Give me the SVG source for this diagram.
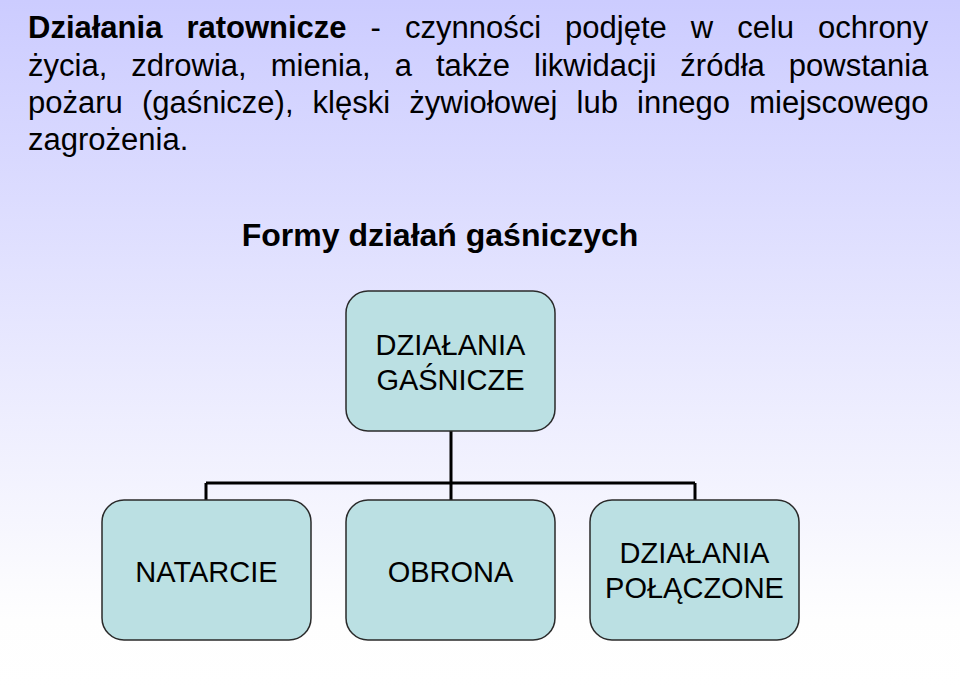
<svg xmlns="http://www.w3.org/2000/svg" width="960" height="689" viewBox="0 0 960 689">
  <defs>
    <linearGradient id="bg" x1="0" y1="0" x2="0" y2="1">
      <stop offset="0" stop-color="#CCCCFF"/>
      <stop offset="0.9" stop-color="#FEFEFE"/>
      <stop offset="1" stop-color="#FFFFFF"/>
    </linearGradient>
    <style>
      .para { font-family: "Liberation Sans", Arial, sans-serif; font-size: 31px; fill: #000; }
      .b { font-weight: bold; }
      .head { font-family: "Liberation Sans", Arial, sans-serif; font-size: 32px; font-weight: bold; fill: #000; }
      .box { fill: #BBE0E3; stroke: #2A2A2A; stroke-width: 1.5; }
      .lbl { font-family: "Liberation Sans", Arial, sans-serif; font-size: 29px; fill: #000; text-anchor: middle; }
      .conn { stroke: #000; stroke-width: 3; fill: none; }
    </style>
  </defs>
  <rect x="0" y="0" width="960" height="689" fill="url(#bg)"/>

  <g id="intro">
    <text class="para" x="28" y="38" word-spacing="15.4"><tspan class="b">Działania ratownicze</tspan> - czynności podjęte w celu ochrony</text>
    <text class="para" x="28" y="75.5" word-spacing="15.4">życia, zdrowia, mienia, a także likwidacji źródła powstania</text>
    <text class="para" x="28" y="113" word-spacing="10.5">pożaru (gaśnicze), klęski żywiołowej lub innego miejscowego</text>
    <text class="para" x="28" y="150">zagrożenia.</text>
  </g>

  <g id="heading">
    <text class="head" x="440" y="246" text-anchor="middle">Formy działań gaśniczych</text>
  </g>

  <g id="connectors">
    <path class="conn" d="M451,431 V483 M206,483 H695 M206,483 V500 M451,483 V500 M695,483 V500"/>
  </g>

  <g id="node-gasnicze">
    <rect class="box" x="346" y="291" width="209" height="140" rx="22" ry="22"/>
    <text class="lbl" x="450.5" y="355">DZIAŁANIA</text>
    <text class="lbl" x="450.5" y="390">GAŚNICZE</text>
  </g>

  <g id="node-natarcie">
    <rect class="box" x="102" y="500" width="209" height="140" rx="22" ry="22"/>
    <text class="lbl" x="206.5" y="582">NATARCIE</text>
  </g>

  <g id="node-obrona">
    <rect class="box" x="346" y="500" width="209" height="140" rx="22" ry="22"/>
    <text class="lbl" x="450.5" y="582">OBRONA</text>
  </g>

  <g id="node-polaczone">
    <rect class="box" x="590" y="500" width="209" height="140" rx="22" ry="22"/>
    <text class="lbl" x="694.5" y="563">DZIAŁANIA</text>
    <text class="lbl" x="694.5" y="598">POŁĄCZONE</text>
  </g>
</svg>
